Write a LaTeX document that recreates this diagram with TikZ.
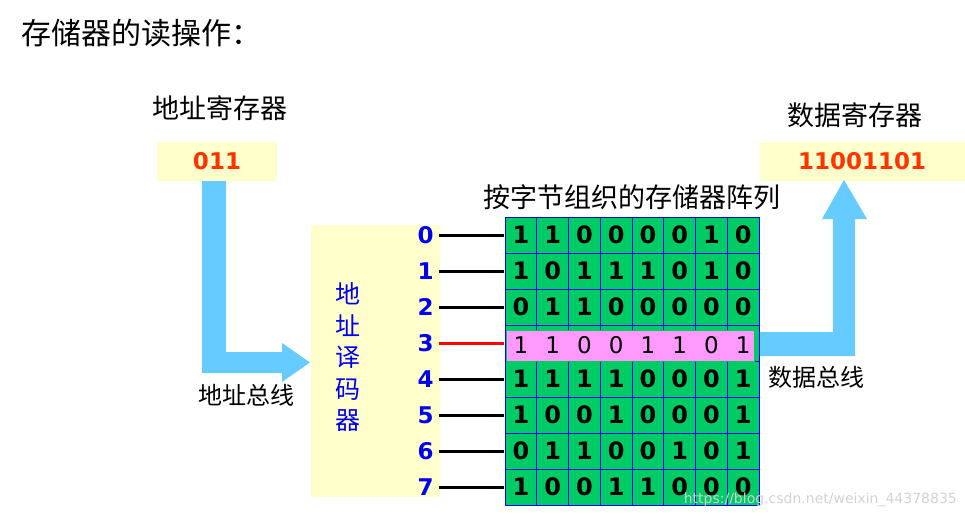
\documentclass[tikz,border=0pt]{standalone}
\usepackage{fontspec}
\newfontfamily\cjk{Noto Sans CJK SC}
\newfontfamily\dv{DejaVu Sans}
\definecolor{boxyellow}{HTML}{FFFFCC}
\definecolor{arrowblue}{HTML}{66CCFF}
\definecolor{cellgreen}{HTML}{00CC66}
\definecolor{rowpink}{HTML}{FF99FF}
\definecolor{valred}{HTML}{FF3300}
\definecolor{numblue}{HTML}{0000EE}
\begin{document}
\begin{tikzpicture}[x=1pt,y=-1pt,
  cjktext/.style={font=\cjk\fontsize{#1}{#1}\selectfont, inner sep=0pt},
  regbox/.style={fill=boxyellow, draw=none, inner sep=0pt},
  regval/.style={text=valred, font=\dv\bfseries\fontsize{23}{23}\selectfont},
  cell/.style={fill=cellgreen, draw=blue, line width=0.8pt, minimum width=31.75pt, minimum height=36pt, inner sep=0pt, font=\dv\bfseries\fontsize{24}{24}\selectfont},
  pinkdigit/.style={font=\dv\fontsize{23}{23}\selectfont, inner sep=0pt},
  rownum/.style={text=numblue, font=\dv\bfseries\fontsize{23}{23}\selectfont, inner sep=0pt},
  wordline/.style={line width=3pt, draw=black},
  busarrow/.style={fill=arrowblue, draw=none}]
\useasboundingbox (0,0) rectangle (965,520);

% title and labels
\node[cjktext=30, anchor=west] (title) at (21,33) {存储器的读操作：};
\node[cjktext=27] (arlabel) at (220,108) {地址寄存器};
\node[cjktext=27] (drlabel) at (855,115) {数据寄存器};
\node[cjktext=27] (arraylabel) at (632,197) {按字节组织的存储器阵列};
\node[cjktext=24] (abus) at (246,395) {地址总线};
\node[cjktext=24] (dbus) at (816,377) {数据总线};

% registers
\node[regbox, minimum width=120pt, minimum height=39pt] (areg) at (217,161.5) {};
\node[regval] (aval) at (areg.center) {011};
\node[regbox, minimum width=205pt, minimum height=39pt, anchor=north west] (dreg) at (760,142) {};
\node[regval] (dval) at (862,161.5) {11001101};

% decoder
\node[regbox, minimum width=129pt, minimum height=272pt, anchor=north west] (dec) at (311,225) {};
\node[text=numblue, font=\cjk\fontsize{25}{31.5}\selectfont, align=center, inner sep=0pt] (dectext) at (348,357) {地\\址\\译\\码\\器};

% address bus arrow
\path[busarrow] (202,181) -- (226,181) -- (226,352) -- (282,352) -- (282,343)
  -- (310,362.5) -- (282,382) -- (282,373) -- (202,373) -- cycle;

% data bus arrow
\path[busarrow] (757,332) -- (833,332) -- (833,219) -- (822,219) -- (844,180)
  -- (867,219) -- (855,219) -- (855,356) -- (757,356) -- cycle;

% memory array
\foreach \r/\bits in {0/{1,1,0,0,0,0,1,0},1/{1,0,1,1,1,0,1,0},2/{0,1,1,0,0,0,0,0},3/{1,1,0,0,1,1,0,1},4/{1,1,1,1,0,0,0,1},5/{1,0,0,1,0,0,0,1},6/{0,1,1,0,0,1,0,1},7/{1,0,0,1,1,0,0,0}}{
  \foreach \b [count=\c from 0] in \bits {
    \ifnum\r=3
      \node[cell] (m-\r-\c) at ({520.9+31.75*\c},{235+36*\r}) {};
    \else
      \node[cell] (m-\r-\c) at ({520.9+31.75*\c},{235+36*\r}) {\b};
    \fi
  }
  \node[rownum] (n-\r) at (425.5,{235+36*\r}) {\r};
  \coordinate (w-\r) at (504,{235+36*\r});
}
% selected row
\node[fill=rowpink, draw=cellgreen, line width=1pt, minimum width=248pt, minimum height=31pt, inner sep=0pt, anchor=north west] (sel) at (506,330) {};
\foreach \b [count=\c from 0] in {1,1,0,0,1,1,0,1}{
  \node[pinkdigit] (p-\c) at ({520.9+31.75*\c},345.5) {\b};
}

% word lines
\foreach \r in {0,1,2,4,5,6,7}{
  \draw[wordline] (n-\r.east) ++(5,0) coordinate (s-\r) (s-\r) -- (w-\r);
}
\draw[wordline, draw=red] (n-3.east) ++(5,0) coordinate (s-3) (s-3) -- (w-3);

% watermark
\node[text=gray!35, font=\fontspec{DejaVu Sans}\fontsize{14}{14}\selectfont, anchor=east, inner sep=0pt] (wm) at (957,500) {https://blog.csdn.net/weixin\_44378835};
\end{tikzpicture}
\end{document}
